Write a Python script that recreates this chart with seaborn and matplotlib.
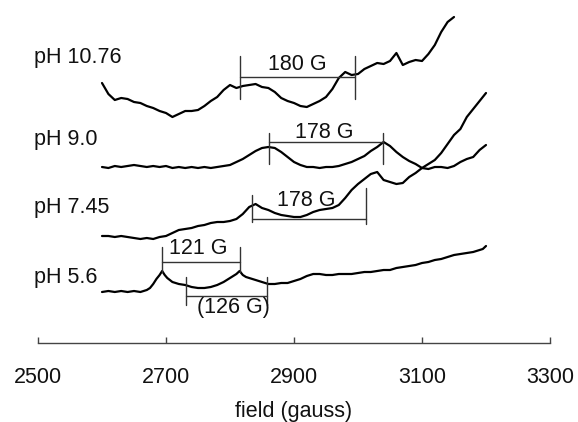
import numpy as np
import matplotlib
matplotlib.use('Agg')
import matplotlib.pyplot as plt
import seaborn as sns

# EPR spectra at four pH values (field in gauss, signal in arbitrary units, already stacked)
field = np.arange(2600, 3201, 10)
field_1076 = np.arange(2600, 3151, 10)

sig_1076 = [260, 249, 243, 245, 244, 241, 240, 237, 235, 232,
            230, 226, 229, 232, 232, 233, 237, 242, 246, 253,
            258, 255, 257, 258, 259, 256, 255, 251, 245, 242,
            240, 237, 236, 239, 242, 246, 254, 265, 271, 268,
            269, 274, 277, 280, 279, 282, 290, 278, 281, 283,
            282, 289, 298, 311, 321, 326]

sig_90 = [176, 175, 177, 176, 177, 178, 177, 176, 177, 176,
          177, 175, 176, 175, 176, 175, 176, 175, 176, 177,
          178, 181, 184, 188, 192, 195, 196, 195, 191, 186,
          181, 178, 176, 176, 175, 176, 176, 177, 179, 181,
          184, 187, 192, 196, 201, 197, 191, 186, 182, 179,
          175, 174, 176, 176, 175, 177, 181, 184, 186, 193,
          198]

sig_745 = [107, 107, 106, 107, 106, 105, 104, 105, 104, 106,
           107, 110, 113, 114, 115, 117, 118, 120, 121, 121,
           122, 124, 129, 136, 139, 135, 133, 130, 128, 127,
           126, 126, 128, 131, 133, 134, 135, 138, 145, 153,
           159, 164, 169, 171, 163, 161, 159, 160, 166, 170,
           175, 179, 183, 190, 199, 208, 214, 226, 234, 242,
           250]

field_56 = [2600, 2610, 2620, 2630, 2640, 2650, 2660, 2670, 2675, 2680,
            2685, 2690, 2694, 2698, 2702, 2706, 2710, 2720, 2730, 2740,
            2750, 2760, 2770, 2780, 2790, 2800, 2805, 2810, 2815, 2820,
            2825, 2830, 2840, 2850, 2860, 2870, 2880, 2890, 2900, 2910,
            2920, 2930, 2940, 2950, 2960, 2970, 2980, 2990, 3000, 3010,
            3020, 3030, 3040, 3050, 3060, 3070, 3080, 3090, 3100, 3110,
            3120, 3130, 3140, 3150, 3160, 3170, 3180, 3190, 3195, 3200]
sig_56 = [51, 52, 51, 52, 51, 52, 51, 53, 55, 59,
          64, 68, 72, 68, 65, 63, 61, 59, 58, 56,
          55, 55, 56, 58, 61, 65, 67, 69, 72, 68,
          66, 65, 63, 61, 59, 59, 60, 60, 62, 64,
          67, 69, 69, 68, 68, 69, 69, 69, 70, 71,
          71, 72, 73, 73, 75, 76, 77, 78, 80, 81,
          83, 84, 86, 88, 89, 90, 91, 93, 94, 97]

ph_labels = ['pH 10.76', 'pH 9.0', 'pH 7.45', 'pH 5.6']
ph_label_y = [285, 203, 135, 66]

# splitting brackets: (left field, right field, label)
brackets = [(2815, 2995, '180 G'),
            (2861, 3039, '178 G'),
            (2835, 3013, '178 G'),
            (2694, 2815, '121 G'),
            (2732, 2858, '(126 G)')]

sns.set_theme(style='white')
plt.rcParams['font.family'] = ['Liberation Sans', 'DejaVu Sans']

fig = plt.figure(figsize=(5.78, 4.22), dpi=100)
ax = fig.add_axes([38 / 578, 79 / 422, 512 / 578, 343 / 422])

for x, y in [(field_1076, sig_1076), (field, sig_90), (field, sig_745), (field_56, sig_56)]:
    sns.lineplot(x=x, y=y, ax=ax, color='black', lw=1.6, sort=False, estimator=None)

fs = 15.5
for lab, yy in zip(ph_labels, ph_label_y):
    ax.text(2493, yy, lab, fontsize=fs, ha='left', va='center', color='#111111')

# bracket geometry: horizontal y, vertical (top, bottom) per side, label y, label x
bk_style = dict(color='#333333', lw=1.0)
bk_geom = [(266, (287, 244), (287, 244), 279, 2905),
           (201, (210, 179), (210, 179), 211, 2948),
           (124, (148, 121), (155, 119), 143, 2919),
           (81, (96, 71), (96, 71), 95, 2750),
           (47, (66, 38), (66, 38), 35, 2805)]
for (x0, x1, lab), (hy, lv, rv, ly, lx) in zip(brackets, bk_geom):
    ax.plot([x0, x1], [hy, hy], **bk_style)
    ax.plot([x0, x0], lv, **bk_style)
    ax.plot([x1, x1], rv, **bk_style)
    ax.text(lx, ly, lab, fontsize=fs, ha='center', va='center', color='#111111')

ax.set_xlim(2500, 3300)
ax.set_ylim(0, 343)
ax.set_xticks([2500, 2700, 2900, 3100, 3300])
ax.set_yticks([])
for s in ['top', 'right', 'left']:
    ax.spines[s].set_visible(False)
ax.spines['bottom'].set_color('#444444')
ax.spines['bottom'].set_linewidth(1.0)
ax.tick_params(axis='x', direction='in', length=4, width=1, color='#444444',
               labelsize=fs, pad=17, labelcolor='#111111', bottom=True)
ax.set_xlabel('field (gauss)', fontsize=fs, labelpad=10, color='#111111')
ax.patch.set_alpha(0)

fig.savefig('out.png', dpi=100)
